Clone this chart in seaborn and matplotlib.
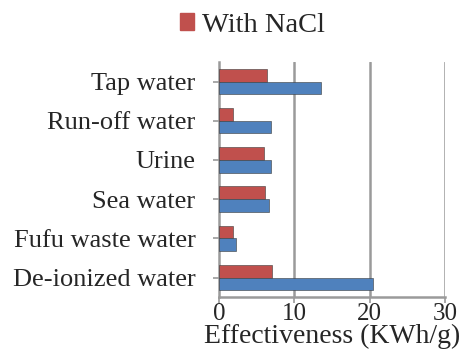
import numpy as np
import pandas as pd
import matplotlib
matplotlib.use("Agg")
import matplotlib.pyplot as plt
import seaborn as sns

# valeurs
categories = ["Tap water", "Run-off water", "Urine", "Sea water",
              "Fufu waste water", "De-ionized water"]
with_nacl = [6.4, 1.8, 6.0, 6.1, 1.9, 7.0]
without_nacl = [13.6, 6.9, 6.9, 6.6, 2.3, 20.4]
series = ["With NaCl", "Without NaCl"]
couleurs = ["#c0504d", "#4f81bd"]
xticks = [0, 10, 20, 30]

df = pd.DataFrame({
    "categorie": categories * 2,
    "valeur": with_nacl + without_nacl,
    "serie": [series[0]] * len(categories) + [series[1]] * len(categories),
})

sns.set_style("white")
plt.rcParams["font.family"] = ["Liberation Serif", "DejaVu Serif"]

fig = plt.figure(figsize=(4.63, 3.58), dpi=100)
ax = fig.add_axes([0.473, 0.170, 0.488, 0.657])

sns.barplot(data=df, y="categorie", x="valeur", hue="serie",
            hue_order=series, order=categories, palette=couleurs,
            saturation=1, orient="h", width=0.65, ax=ax, zorder=3,
            legend=False, edgecolor="#3a3a3a", linewidth=0.4)

ax.set_xlim(0, 30)
ax.set_xticks(xticks)
ax.set_xticklabels([str(t) for t in xticks], fontsize=18)
ax.tick_params(axis="y", labelsize=19, length=4, width=1.2, color="#9a9a9a",
               direction="out", pad=13, left=True)
ax.tick_params(axis="x", length=4, width=1.2, color="#9a9a9a",
               direction="out", pad=0.5, bottom=True)
ax.set_ylabel("")
ax.set_xlabel("Effectiveness (KWh/g)", fontsize=20, labelpad=-1)

# grille verticale grise
for t in xticks[1:]:
    ax.axvline(t, color="#9a9a9a", lw=1.8, zorder=1)
ax.set_ylim(len(categories) - 0.5, -0.5)

for s in ["top", "right"]:
    ax.spines[s].set_visible(False)
for s in ["left", "bottom"]:
    ax.spines[s].set_color("#9a9a9a")
    ax.spines[s].set_linewidth(1.8)

# légende (seule l'entrée rouge est visible)
poignee = plt.Rectangle((0, 0), 1, 1, color=couleurs[0])
fig.legend([poignee], [series[0]], loc="center left",
           bbox_to_anchor=(0.389, 0.930), frameon=False, fontsize=20.5,
           borderaxespad=0, borderpad=0,
           handlelength=0.5, handleheight=0.5, handletextpad=0.28)

fig.savefig("out.png", dpi=100)
